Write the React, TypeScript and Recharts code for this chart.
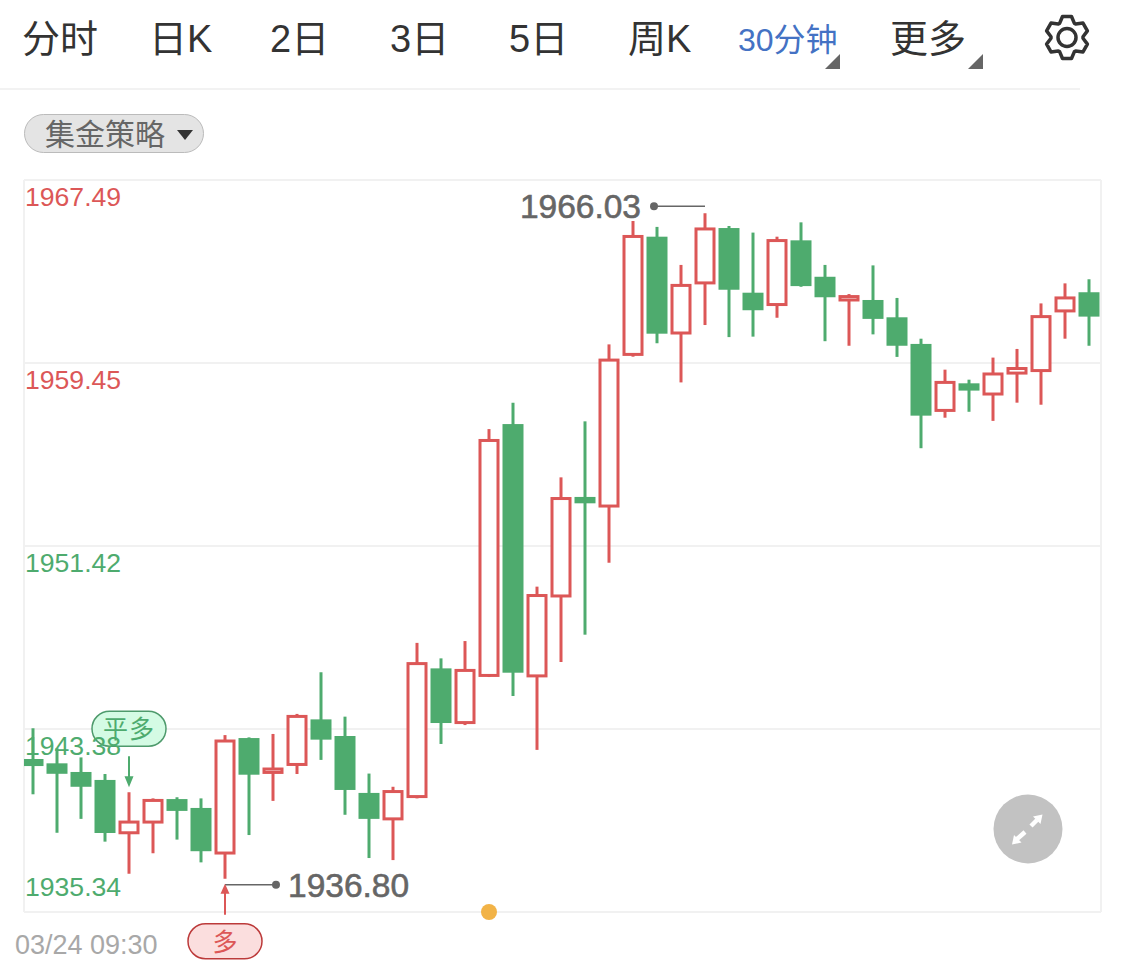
import { Bar, CartesianGrid, ComposedChart, ReferenceDot, XAxis, YAxis } from 'recharts';

const FONT = '"Liberation Sans", "Noto Sans CJK SC", sans-serif';
const RED = '#DC5757';
const GREEN = '#4EAB6E';

const opens = [
  1942.06, 1941.87, 1941.49, 1941.14, 1938.82, 1939.29, 1940.30, 1939.91, 1937.93, 1942.98, 1941.47,
  1941.82, 1943.80, 1943.07, 1940.57, 1939.43, 1940.41, 1946.04, 1943.66, 1945.73, 1956.77, 1945.71,
  1949.22, 1953.57, 1953.17, 1959.83, 1965.00, 1960.77, 1962.97, 1965.38, 1962.54, 1962.02, 1964.84,
  1963.24, 1962.22, 1962.22, 1961.46, 1960.29, 1957.37, 1958.56, 1958.09, 1959.01, 1959.12, 1961.74,
  1962.56,
];
const closes = [
  1941.75, 1941.41, 1940.84, 1938.81, 1939.29, 1940.24, 1939.78, 1938.01, 1942.85, 1941.37, 1941.62,
  1943.93, 1942.91, 1940.70, 1939.43, 1940.63, 1946.25, 1943.64, 1945.95, 1956.05, 1945.85, 1949.24,
  1953.50, 1953.29, 1959.58, 1965.01, 1960.74, 1962.86, 1965.34, 1962.67, 1961.77, 1964.83, 1962.83,
  1962.34, 1962.37, 1961.39, 1960.21, 1957.14, 1958.60, 1958.24, 1958.97, 1959.21, 1961.49, 1962.31,
  1961.49,
];
const highs = [
  1943.41, 1942.53, 1942.13, 1941.40, 1940.60, 1940.33, 1940.38, 1940.33, 1943.11, 1943.01, 1943.16,
  1944.04, 1945.87, 1943.92, 1941.42, 1940.84, 1947.16, 1946.48, 1947.24, 1956.55, 1957.71, 1949.63,
  1954.43, 1956.89, 1960.27, 1965.69, 1965.43, 1963.76, 1966.03, 1965.47, 1965.18, 1965.00, 1965.63,
  1963.76, 1962.48, 1963.74, 1962.31, 1960.52, 1959.16, 1958.72, 1959.69, 1960.07, 1962.07, 1962.95,
  1963.13,
];
const lows = [
  1940.51, 1938.82, 1939.43, 1938.43, 1937.02, 1937.92, 1938.52, 1937.52, 1936.80, 1938.72, 1940.22,
  1941.40, 1942.02, 1939.61, 1937.71, 1937.62, 1940.33, 1942.72, 1943.55, 1945.66, 1944.83, 1942.46,
  1946.32, 1947.52, 1950.68, 1959.73, 1960.32, 1958.60, 1961.12, 1960.59, 1960.61, 1961.44, 1962.80,
  1960.41, 1960.21, 1960.71, 1959.72, 1955.71, 1957.05, 1957.31, 1956.91, 1957.71, 1957.62, 1960.52,
  1960.21,
];
const priceTicks = [1935.34, 1943.38, 1951.42, 1959.45, 1967.49];
const tabs = [
  { label: '分时', x: 22 },
  { label: '日K', x: 149 },
  { label: '2日', x: 270 },
  { label: '3日', x: 390 },
  { label: '5日', x: 509 },
  { label: '周K', x: 628 },
];

const data = opens.map((open, i) => ({
  idx: i,
  open,
  close: closes[i],
  high: highs[i],
  low: lows[i],
  range: [lows[i], highs[i]],
}));

const Candle = (props: any) => {
  const { x, y, width, height, payload } = props;
  const { open, close, high, low } = payload;
  const perUnit = height / (high - low);
  const top = y + (high - Math.max(open, close)) * perUnit;
  const bottom = y + (high - Math.min(open, close)) * perUnit;
  const mid = x + width / 2;
  const up = close >= open;
  const color = up ? RED : GREEN;
  return (
    <g>
      <line x1={mid} x2={mid} y1={y} y2={y + height} stroke={color} strokeWidth={3} />
      {up ? (
        <rect x={x + 1} y={top} width={width - 2} height={bottom - top} fill="#fff" stroke={color} strokeWidth={3} />
      ) : (
        <rect x={x - 0.5} y={top} width={width + 1} height={bottom - top} fill={color} />
      )}
    </g>
  );
};

const PriceTick = (props: any) => {
  const { y, payload } = props;
  const value = payload.value;
  const dy = value === priceTicks[0] ? -16 : 26;
  return (
    <text x={25} y={y + dy} fontSize={26.6} fontFamily={FONT} fill={value > 1955 ? RED : GREEN}>
      {value.toFixed(2)}
    </text>
  );
};

const TimeTick = (props: any) => (
  <text x={15} y={props.y + 34} fontSize={27} fontFamily={FONT} fill="#a8a8a8">
    03/24 09:30
  </text>
);

const HighMark = (props: any) => {
  const { cx, cy } = props;
  return (
    <g>
      <line x1={cx} x2={cx - 51} y1={cy - 7} y2={cy - 7} stroke="#666" strokeWidth={1.5} />
      <circle cx={cx - 51} cy={cy - 7} r={4} fill="#666" />
      <text x={cx - 64} y={cy + 5} textAnchor="end" fontSize={33.5} fontFamily={FONT} fill="#666" stroke="#666" strokeWidth={0.6}>
        1966.03
      </text>
    </g>
  );
};

const LowMark = (props: any) => {
  const { cx, cy } = props;
  const my = cy + 6;
  return (
    <g>
      <line x1={cx} x2={cx + 51} y1={my} y2={my} stroke="#666" strokeWidth={1.5} />
      <circle cx={cx + 51} cy={my} r={4} fill="#666" />
      <text x={cx + 63} y={my + 12} fontSize={33.5} fontFamily={FONT} fill="#666" stroke="#666" strokeWidth={0.6}>
        1936.80
      </text>
      <line x1={cx} x2={cx} y1={my + 6} y2={my + 30} stroke={RED} strokeWidth={2} />
      <polygon points={`${cx},${my - 1} ${cx - 4.5},${my + 9} ${cx + 4.5},${my + 9}`} fill={RED} />
      <rect x={cx - 37} y={my + 39} width={74} height={35} rx={17.5} fill="#FBDEDE" stroke="#BC3A3A" strokeWidth={1.5} />
      <text x={cx} y={my + 66} textAnchor="middle" fontSize={25} fontFamily={FONT} fill={RED}>
        多
      </text>
    </g>
  );
};

const CloseMark = (props: any) => {
  const { cx, cy } = props;
  return (
    <g>
      <rect x={cx - 37} y={cy - 81} width={74} height={35} rx={17.5} fill="#D4FBE4" stroke="#4E9A6C" strokeWidth={1.5} />
      <text x={cx} y={cy - 54} textAnchor="middle" fontSize={25} fontFamily={FONT} letterSpacing={1} fill={GREEN}>
        平多
      </text>
      <line x1={cx} x2={cx} y1={cy - 36} y2={cy - 14} stroke={GREEN} strokeWidth={2} />
      <polygon points={`${cx},${cy - 5} ${cx - 4.5},${cy - 16} ${cx + 4.5},${cy - 16}`} fill={GREEN} />
    </g>
  );
};

const Header = () => {
  const cx = 1067;
  const cy = 37.5;
  const pts: string[] = [];
  for (let k = 0; k < 6; k++) {
    const a = -90 + k * 60;
    [[-27, 16], [-12, 21.5], [12, 21.5], [27, 16]].forEach(([d, r]) => {
      const rad = ((a + d) * Math.PI) / 180;
      pts.push(`${(cx + r * Math.cos(rad)).toFixed(1)},${(cy + r * Math.sin(rad)).toFixed(1)}`);
    });
  }
  return (
    <svg width={1125} height={975} style={{ position: 'absolute', left: 0, top: 0, pointerEvents: 'none' }}>
      {tabs.map((t) => (
        <text key={t.label} x={t.x} y={52} fontSize={38} fontFamily={FONT} fill="#333">
          {t.label}
        </text>
      ))}
      <text x={738} y={51} fontSize={32} fontFamily={FONT} fill="#4472C4">
        30分钟
      </text>
      <polygon points="825,69 840,69 840,54" fill="#666" />
      <text x={890} y={52} fontSize={38} fontFamily={FONT} fill="#333">
        更多
      </text>
      <polygon points="968,69 983,69 983,54" fill="#666" />
      <polygon points={pts.join(' ')} fill="none" stroke="#333" strokeWidth={3.5} strokeLinejoin="round" />
      <circle cx={cx} cy={cy} r={9} fill="none" stroke="#333" strokeWidth={3.5} />
      <line x1={0} x2={1080} y1={89} y2={89} stroke="#f2f2f2" strokeWidth={2} />

      <rect x={24.5} y={114.5} width={179} height={38} rx={19} fill="#E4E4E4" stroke="#BBB" strokeWidth={1} />
      <text x={45} y={145} fontSize={30} fontFamily={FONT} fill="#666">
        集金策略
      </text>
      <polygon points="177,130 193,130 185,140" fill="#333" />

      <circle cx={1028} cy={829} r={34.5} fill="#C2C2C2" />
      <line x1={1017} x2={1025} y1={839} y2={832} stroke="#fff" strokeWidth={4.5} />
      <polygon points="1012,844.5 1014,835 1021.5,842.5" fill="#fff" />
      <line x1={1037} x2={1031} y1={820} y2={826} stroke="#fff" strokeWidth={4.5} />
      <polygon points="1042.5,814.5 1033,816.5 1040.5,824" fill="#fff" />
    </svg>
  );
};

export default function App() {
  return (
    <div style={{ position: 'absolute', left: 0, top: 0, width: 1125, height: 975, background: '#fff', overflow: 'hidden' }}>
      <ComposedChart
        width={1125}
        height={975}
        data={data}
        margin={{ top: 180, right: 24, bottom: 62, left: 23 }}
      >
        <CartesianGrid
          stroke="#f1f1f1"
          strokeWidth={2}
          horizontalValues={priceTicks}
          verticalValues={[-0.375, 44.5]}
        />
        <XAxis
          dataKey="idx"
          type="number"
          domain={[-0.375, 44.5]}
          allowDataOverflow
          ticks={[0]}
          tick={<TimeTick />}
          axisLine={false}
          tickLine={false}
          height={1}
        />
        <YAxis
          type="number"
          domain={[1935.34, 1967.49]}
          allowDataOverflow
          ticks={priceTicks}
          interval={0}
          tick={<PriceTick />}
          axisLine={false}
          tickLine={false}
          width={1}
        />
        <Bar dataKey="range" barSize={20} shape={<Candle />} isAnimationActive={false} />
        <ReferenceDot x={28} y={highs[28]} shape={<HighMark />} ifOverflow="visible" />
        <ReferenceDot x={8} y={lows[8]} shape={<LowMark />} ifOverflow="visible" />
        <ReferenceDot x={4} y={highs[4]} shape={<CloseMark />} ifOverflow="visible" />
        <ReferenceDot x={19} y={1935.34} r={8} fill="#F2B347" stroke="none" ifOverflow="visible" />
      </ComposedChart>
      <Header />
    </div>
  );
}
